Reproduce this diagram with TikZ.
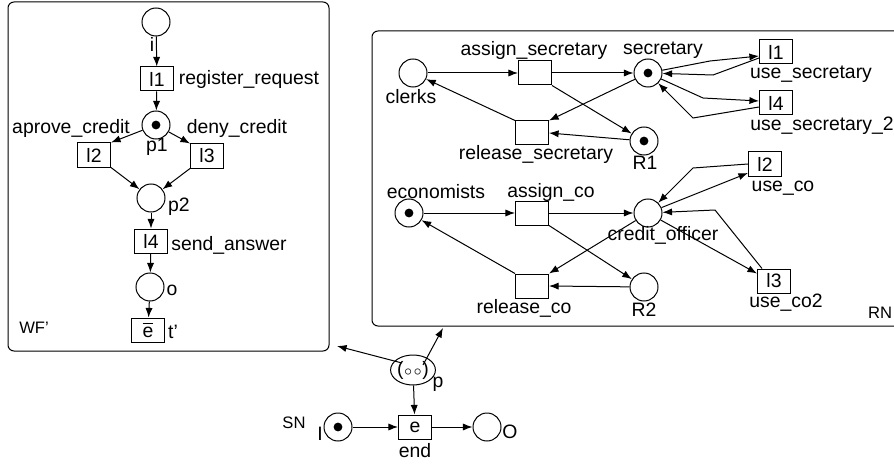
\documentclass[tikz,border=0pt]{standalone}
\usepackage{fontspec}
\setmainfont{Liberation Sans}
\usetikzlibrary{positioning,shapes,arrows.meta}

\begin{document}
\begin{tikzpicture}[x=0.5pt,y=-0.5pt,line width=0.5pt,
  font=\fontsize{9.7}{11}\selectfont,
  place/.style={draw,circle,minimum size=14pt,inner sep=0pt},
  marked/.style={place,path picture={\fill (path picture bounding box.center) circle (2.2pt);}},
  trans/.style={draw,rectangle,minimum width=16.5pt,minimum height=12pt,inner sep=0pt},
  arc/.style={-{Latex[length=4.8pt,width=3.6pt]}},
  netname/.style={font=\fontsize{8.3}{10}\selectfont}]
\useasboundingbox (0,0) rectangle (894,465);
\clip (0,0) rectangle (894,465);

% workflow net WF'
\draw[rounded corners=3pt] (8,2) rectangle (329,351);
\node[place] (i) at (156,22) {};
\node[trans] (l1) at (157,79) {l1};
\node[marked] (p1) at (156,125) {};
\node[trans] (l2) at (94,155) {l2};
\node[trans] (l3) at (207,156) {l3};
\node[place] (p2) at (151,198) {};
\node[trans] (l4) at (151,241) {l4};
\node[place] (o) at (150,287) {};
\node[trans] (tp) at (148,330) {$\overline{\hbox{e}}$};
\node (il) at (152,44) {i};
\node (l1l) at (249,79) {register\_request};
\node (p1l) at (157,147) {p1};
\node (l2l) at (71,128) {aprove\_credit};
\node (l3l) at (237,128) {deny\_credit};
\node (p2l) at (179,207) {p2};
\node (l4l) at (229,245) {send\_answer};
\node (ol) at (172,290) {o};
\node (tpl) at (173,332) {t'};
\node[netname] (wf) at (34,328) {WF'};
\draw[arc] (i) -- (l1);
\draw[arc] (l1) -- (p1);
\draw[arc] (p1) -- (l2.north east);
\draw[arc] (p1) -- (l3.north west);
\draw[arc] (l2.south east) -- (p2);
\draw[arc] (l3.south west) -- (p2);
\draw[arc] (p2) -- (l4);
\draw[arc] (l4) -- (o);
\draw[arc] (o) -- (tp);

% resource net RN
\draw[rounded corners=3pt] (372,31) rectangle (920,326);
\node[place] (clerks) at (413,73) {};
\node[trans] (as) at (535,73) {};
\node[marked] (sec) at (648,73) {};
\node[trans] (rs) at (532,133) {};
\node[marked] (R1) at (644,141) {};
\node[trans] (u1) at (776,52) {l1};
\node[trans] (u4) at (776,103) {l4};
\node (clerksl) at (411,97) {clerks};
\node (asl) at (534,50) {assign\_secretary};
\node (secl) at (663,50) {secretary};
\node (rsl) at (536,154) {release\_secretary};
\node (R1l) at (645,163) {R1};
\node (u1l) at (811,74) {use\_secretary};
\node (u4l) at (822,126) {use\_secretary\_2};
\coordinate (b1) at (710,61);
\coordinate (b2) at (713,75);
\coordinate (b3) at (703,98);
\coordinate (b4) at (693,118);
\draw[arc] (clerks) -- (as);
\draw[arc] (as) -- (sec);
\draw[arc] (as.south east) -- (R1);
\draw[arc] (sec) -- (rs.north east);
\draw[arc] (R1) -- (rs.east);
\draw[arc] (rs.north west) -- (clerks);
\draw[arc] (sec) -- (b1) -- ([yshift=-2pt]u1.west);
\draw[arc] ([yshift=-3pt]u1.west) -- (b2) -- (sec);
\draw[arc] (sec) -- (b3) -- ([yshift=1pt]u4.west);
\draw[arc] ([yshift=-2pt]u4.west) -- (b4) -- (sec);

\node[marked] (eco) at (409,213) {};
\node[trans] (ac) at (532,213) {};
\node[place] (co) at (648,213) {};
\node[trans] (rc) at (532,286) {};
\node[place] (R2) at (644,287) {};
\node[trans] (u2) at (765,164) {l2};
\node[trans] (u3) at (774,281) {l3};
\node (ecol) at (436,192) {economists};
\node (acl) at (551,192) {assign\_co};
\node (col) at (663,235) {credit\_officer};
\node (rcl) at (524,308) {release\_co};
\node (R2l) at (644,310) {R2};
\node (u2l) at (783,188) {use\_co};
\node (u3l) at (786,303) {use\_co2};
\node[netname] (rn) at (880,313) {RN};
\coordinate (b5) at (693,168);
\coordinate (b6) at (715,210);
\draw[arc] (eco) -- (ac);
\draw[arc] (ac) -- (co);
\draw[arc] (ac.south east) -- (R2);
\draw[arc] (co) -- (rc.north east);
\draw[arc] (R2) -- (rc.east);
\draw[arc] (rc.north west) -- (eco);
\draw[arc] (u2.west) -- (b5) -- (co);
\draw[arc] (co) -- ([yshift=-4.5pt]u2.west);
\draw[arc] (co) -- ([yshift=-2.5pt]u3.north west);
\draw[arc] ([xshift=2.5pt]u3.north west) -- (b6) -- (co);

% system net SN
\node[draw,ellipse,minimum width=21.5pt,minimum height=15pt,inner sep=0pt] (p) at (413,370) {(\kern0.3pt$\scriptstyle\circ\kern0.6pt\circ$\kern0.3pt)};
\node[marked] (I) at (338,427) {};
\node[trans] (e) at (415,427) {e};
\node[place] (O) at (487,427) {};
\node (pl) at (438,384) {p};
\node (Il) at (320,434) {I};
\node (el) at (415,451) {end};
\node (Ol) at (510,432) {O};
\node[netname] (sn) at (294,423) {SN};
\coordinate (pa) at (402,363);
\coordinate (pb) at (423,365);
\coordinate (wfin) at (337,346);
\coordinate (rnin) at (443,328);
\draw[arc] (pa) -- (wfin);
\draw[arc] (pb) -- (rnin);
\draw[arc] (p) -- (e);
\draw[arc] (I) -- (e);
\draw[arc] (e) -- (O);
\end{tikzpicture}
\end{document}
